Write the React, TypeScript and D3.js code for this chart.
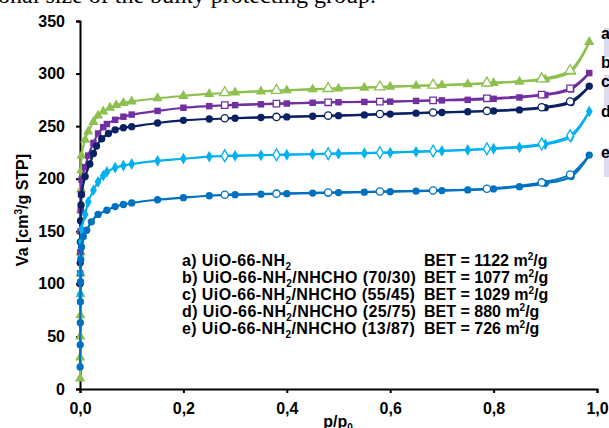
import React, { useEffect, useRef } from 'react';
import * as d3 from 'd3';

// tick values
const xTicks = [0, 0.2, 0.4, 0.6, 0.8, 1.0];
const yTicks = [0, 50, 100, 150, 200, 250, 300, 350];

// series meta
const seriesKeys = ['a', 'b', 'c', 'd', 'e'];
const seriesColors = ['#8DC04E', '#7030A0', '#0A2163', '#00B0F0', '#0070C0'];
const seriesShapes = ['triangle', 'square', 'circle', 'diamond', 'circle'];
const legendLabels = ['a) UiO-66-NH', 'b) UiO-66-NH', 'c) UiO-66-NH', 'd) UiO-66-NH', 'e) UiO-66-NH'];
const legendSuffix = ['', '/NHCHO (70/30)', '/NHCHO (55/45)', '/NHCHO (25/75)', '/NHCHO (13/87)'];
const betValues = ['1122', '1077', '1029', '880', '726'];

// adsorption branches [p/p0, Va]
const adsA = [[0.0002, 10], [0.0004, 30], [0.0006, 50], [0.0008, 70], [0.001, 90], [0.0012, 110], [0.0014, 130], [0.0016, 150], [0.0019, 170], [0.0022, 190], [0.0026, 208], [0.003, 222], [0.01, 237], [0.016, 245], [0.026, 254], [0.035, 260], [0.045, 264], [0.058, 267.5], [0.07, 270], [0.084, 272], [0.1, 273.5], [0.15, 276.5], [0.2, 278.7], [0.25, 280.6], [0.3, 282], [0.35, 283], [0.4, 284], [0.45, 285], [0.5, 285.7], [0.55, 286.5], [0.6, 287.5], [0.65, 288.3], [0.7, 289], [0.75, 289.8], [0.8, 291], [0.85, 292.3], [0.9, 294.5], [0.95, 301.8], [0.985, 330]];
const adsB = [[0.0003, 110], [0.0006, 130], [0.001, 150], [0.0015, 170], [0.002, 185], [0.003, 199], [0.01, 211], [0.016, 222], [0.026, 234], [0.035, 243], [0.045, 249], [0.052, 252], [0.068, 256], [0.084, 259], [0.1, 261], [0.15, 264.5], [0.2, 267.5], [0.25, 269], [0.3, 270], [0.35, 270.8], [0.4, 271.5], [0.45, 272.2], [0.5, 272.7], [0.55, 273], [0.6, 273.3], [0.65, 274], [0.7, 274.5], [0.75, 275], [0.8, 276], [0.85, 277.3], [0.9, 279.6], [0.95, 285], [0.985, 300.5]];
const adsC = [[0.0002, 100], [0.0004, 120], [0.0007, 140], [0.001, 160], [0.002, 175], [0.003, 185], [0.01, 202], [0.019, 214], [0.026, 224], [0.032, 231], [0.042, 238], [0.055, 243], [0.068, 246.5], [0.084, 248.5], [0.1, 249.5], [0.15, 253], [0.2, 255.5], [0.25, 256.8], [0.3, 257.5], [0.35, 258.2], [0.4, 258.8], [0.45, 259.4], [0.5, 260], [0.55, 260.7], [0.6, 261.5], [0.65, 262.3], [0.7, 263], [0.75, 263.7], [0.8, 264.5], [0.85, 265.4], [0.9, 267.6], [0.95, 272.4], [0.985, 288]];
const adsD = [[0.0003, 90], [0.0006, 110], [0.001, 125], [0.002, 140], [0.003, 152], [0.01, 166], [0.016, 178], [0.026, 189], [0.035, 197], [0.045, 203], [0.052, 206.5], [0.068, 210.5], [0.084, 212.5], [0.1, 214], [0.15, 217], [0.2, 219], [0.25, 221], [0.3, 221.8], [0.35, 222.3], [0.4, 222.8], [0.45, 223.3], [0.5, 223.8], [0.55, 224.3], [0.6, 224.8], [0.65, 225.6], [0.7, 226.4], [0.75, 227.3], [0.8, 228.5], [0.85, 229.8], [0.9, 232.7], [0.95, 240], [0.985, 264]];
const adsE = [[0.0002, 21], [0.0004, 42], [0.0006, 63], [0.0008, 83], [0.001, 102], [0.0015, 123], [0.003, 135], [0.0065, 145], [0.013, 151], [0.022, 159], [0.035, 166], [0.052, 170], [0.068, 173.5], [0.084, 175.5], [0.1, 177], [0.15, 180], [0.2, 182], [0.25, 183.8], [0.3, 184.8], [0.35, 185.3], [0.4, 185.8], [0.45, 186.3], [0.5, 186.8], [0.55, 187.2], [0.6, 187.7], [0.65, 188.2], [0.7, 188.7], [0.75, 189.3], [0.8, 190.3], [0.85, 192.4], [0.9, 195.6], [0.95, 202], [0.985, 222.5]];

// desorption branches (open markers)
const desA = [[0.985, 330], [0.948, 303], [0.893, 295], [0.787, 291], [0.683, 289], [0.58, 287.3], [0.48, 285.8], [0.38, 284], [0.28, 281.8]];
const desB = [[0.985, 300.5], [0.948, 286], [0.893, 280], [0.787, 276.5], [0.683, 274.5], [0.58, 273.3], [0.48, 272.7], [0.38, 271.5], [0.28, 270]];
const desC = [[0.985, 288], [0.948, 273.5], [0.893, 268], [0.787, 264.5], [0.683, 263], [0.58, 261.5], [0.48, 260], [0.38, 258.8], [0.28, 257.5]];
const desD = [[0.985, 264], [0.948, 241], [0.893, 233], [0.787, 228.5], [0.683, 226.3], [0.58, 224.8], [0.48, 223.8], [0.38, 222.8], [0.28, 221.8]];
const desE = [[0.985, 222.5], [0.948, 204], [0.893, 196.5], [0.787, 190.5], [0.683, 188.8], [0.58, 187.8], [0.48, 186.8], [0.38, 185.8], [0.28, 184.8]];

const adsData = [adsA, adsB, adsC, adsD, adsE];
const desData = [desA, desB, desC, desD, desE];

const FONT = '"Liberation Sans", Arial, sans-serif';

const symbolFor = (shape: string) => {
  if (shape === 'triangle') return d3.symbol().type(d3.symbolTriangle).size(46);
  if (shape === 'square') return d3.symbol().type(d3.symbolSquare).size(42);
  if (shape === 'diamond') return d3.symbol().type(d3.symbolDiamond).size(40);
  return d3.symbol().type(d3.symbolCircle).size(42);
};

const App = () => {
  const svgRef = useRef<SVGSVGElement>(null);

  useEffect(() => {
    const width = 609;
    const height = 428;

    const x = d3.scaleLinear().domain([0, 1]).range([80, 597]);
    const y = d3.scaleLinear().domain([0, 350]).range([389, 21]);

    const svg = d3.select(svgRef.current);
    svg.selectAll('*').remove();
    svg.attr('width', width).attr('height', height).attr('viewBox', `0 0 ${width} ${height}`);

    svg.append('rect').attr('width', width).attr('height', height).attr('fill', '#ffffff');

    // clipped line of page text above the figure
    svg.append('text')
      .attr('x', 376)
      .attr('y', 3)
      .attr('text-anchor', 'end')
      .style('font-family', '"Liberation Serif", "Times New Roman", serif')
      .style('font-size', '24px')
      .text('additional size of the bulky protecting group.');

    // x axis
    svg.append('g')
      .attr('transform', `translate(0,${y(0)})`)
      .call(d3.axisBottom(x).tickValues(xTicks).tickSize(4).tickPadding(10)
        .tickFormat(d => d3.format('.1f')(d as number).replace('.', ',')))
      .call(g => g.select('.domain').attr('stroke-width', 2))
      .call(g => g.selectAll('.tick line').attr('stroke-width', 2))
      .call(g => g.selectAll('.tick text')
        .style('font-family', FONT).style('font-size', '16px').style('font-weight', 'bold').attr('fill', '#000'));

    // y axis
    svg.append('g')
      .attr('transform', `translate(${x(0)},0)`)
      .call(d3.axisLeft(y).tickValues(yTicks).tickSize(4).tickPadding(11))
      .call(g => g.select('.domain').attr('stroke-width', 2))
      .call(g => g.selectAll('.tick line').attr('stroke-width', 2))
      .call(g => g.selectAll('.tick text')
        .style('font-family', FONT).style('font-size', '16px').style('font-weight', 'bold').attr('fill', '#000'));

    // axis titles
    const yTitle = svg.append('text')
      .attr('transform', 'translate(28,210) rotate(-90)')
      .attr('text-anchor', 'middle')
      .style('font-family', FONT).style('font-size', '16px').style('font-weight', 'bold');
    yTitle.append('tspan').text('Va [cm');
    yTitle.append('tspan').attr('dy', -6).style('font-size', '10px').text('3');
    yTitle.append('tspan').attr('dy', 6).text('/g STP]');

    const xTitle = svg.append('text')
      .attr('x', 338)
      .attr('y', 427)
      .attr('text-anchor', 'middle')
      .style('font-family', FONT).style('font-size', '16px').style('font-weight', 'bold');
    xTitle.append('tspan').text('p/p');
    xTitle.append('tspan').attr('dy', 4).style('font-size', '10px').text('0');

    const line = d3.line<number[]>()
      .x(d => x(d[0]))
      .y(d => y(d[1]))
      .curve(d3.curveCatmullRom.alpha(0.5));

    seriesKeys.forEach((key, i) => {
      const color = seriesColors[i];
      const sym = symbolFor(seriesShapes[i]);
      const g = svg.append('g').attr('class', `series-${key}`);

      g.append('path').datum(desData[i])
        .attr('d', line).attr('fill', 'none').attr('stroke', color).attr('stroke-width', 2);
      g.append('path').datum(adsData[i])
        .attr('d', line).attr('fill', 'none').attr('stroke', color).attr('stroke-width', 2.2);

      g.selectAll('.ads').data(adsData[i]).enter().append('path')
        .attr('transform', d => `translate(${x(d[0])},${y(d[1])})`)
        .attr('d', sym as any)
        .attr('fill', color);

      g.selectAll('.des').data(desData[i].slice(1)).enter().append('path')
        .attr('transform', d => `translate(${x(d[0])},${y(d[1])})`)
        .attr('d', sym as any)
        .attr('fill', '#ffffff')
        .attr('stroke', color)
        .attr('stroke-width', 1.3);
    });

    // legend block
    const legendY = [266, 283, 300, 317, 334];
    legendLabels.forEach((lab, i) => {
      const t = svg.append('text')
        .attr('x', 182).attr('y', legendY[i])
        .style('font-family', FONT).style('font-size', '16px').style('font-weight', 'bold')
        .style('letter-spacing', '0.4px');
      t.append('tspan').text(lab);
      t.append('tspan').attr('dy', 4).style('font-size', '10px').text('2');
      t.append('tspan').attr('dy', -4).text(legendSuffix[i]);

      const b = svg.append('text')
        .attr('x', 424).attr('y', legendY[i])
        .style('font-family', FONT).style('font-size', '16px').style('font-weight', 'bold');
      b.append('tspan').text(`BET = ${betValues[i]} m`);
      b.append('tspan').attr('dy', -6).style('font-size', '10px').text('2');
      b.append('tspan').attr('dy', 6).text('/g');
    });

    // curve tags cut off at the right edge
    const tagBoxes = [[28, 57], [75, 107], [148, 177]];
    tagBoxes.forEach(([y0, y1]) => {
      svg.append('rect').attr('x', 604).attr('y', y0).attr('width', 6).attr('height', y1 - y0).attr('fill', '#DCDCF0');
    });
    const tagY = [39, 68, 87, 117, 158];
    seriesKeys.forEach((key, i) => {
      svg.append('text')
        .attr('x', 601).attr('y', tagY[i])
        .style('font-family', FONT).style('font-size', '16px').style('font-weight', 'bold')
        .text(key);
    });
  }, []);

  return (
    <svg ref={svgRef} style={{ position: 'absolute', left: 0, top: 0, display: 'block' }} />
  );
};

export default App;
